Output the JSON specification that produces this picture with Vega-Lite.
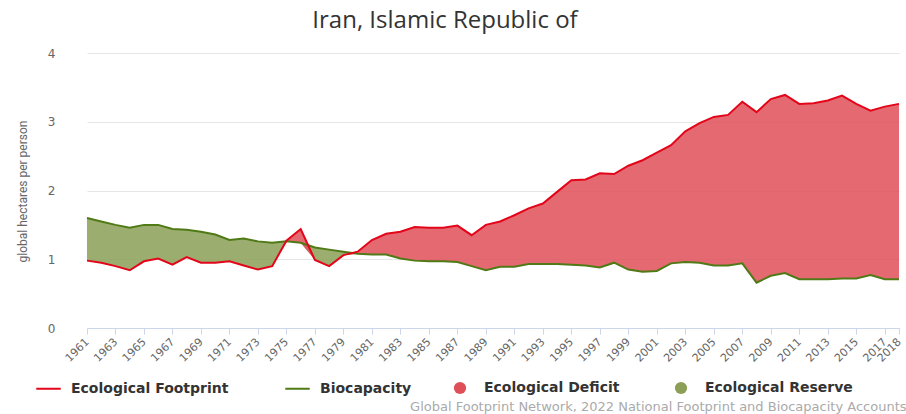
{
  "$schema": "https://vega.github.io/schema/vega-lite/v6.json",
  "width": 812,
  "height": 275,
  "autosize": {"type": "none"},
  "padding": {"left": 87, "top": 53, "right": 7, "bottom": 86},
  "background": "white",
  "title": {
    "text": "Iran, Islamic Republic of",
    "font": "Open Sans",
    "fontSize": 24,
    "fontWeight": "normal",
    "color": "#333333",
    "anchor": "middle",
    "frame": "group",
    "dx": -48,
    "offset": 14
  },
  "config": {
    "view": {"stroke": null},
    "axis": {"labelFont": "DejaVu Sans", "titleFont": "DejaVu Sans"}
  },
  "data": {
    "values": [
      {"year": 1961, "footprint": 0.98, "biocapacity": 1.60},
      {"year": 1962, "footprint": 0.95, "biocapacity": 1.55},
      {"year": 1963, "footprint": 0.90, "biocapacity": 1.50},
      {"year": 1964, "footprint": 0.84, "biocapacity": 1.46},
      {"year": 1965, "footprint": 0.97, "biocapacity": 1.50},
      {"year": 1966, "footprint": 1.01, "biocapacity": 1.50},
      {"year": 1967, "footprint": 0.92, "biocapacity": 1.44},
      {"year": 1968, "footprint": 1.03, "biocapacity": 1.43},
      {"year": 1969, "footprint": 0.95, "biocapacity": 1.40},
      {"year": 1970, "footprint": 0.95, "biocapacity": 1.36},
      {"year": 1971, "footprint": 0.97, "biocapacity": 1.28},
      {"year": 1972, "footprint": 0.91, "biocapacity": 1.30},
      {"year": 1973, "footprint": 0.85, "biocapacity": 1.26},
      {"year": 1974, "footprint": 0.90, "biocapacity": 1.24},
      {"year": 1975, "footprint": 1.27, "biocapacity": 1.26},
      {"year": 1976, "footprint": 1.44, "biocapacity": 1.24},
      {"year": 1977, "footprint": 0.99, "biocapacity": 1.17},
      {"year": 1978, "footprint": 0.90, "biocapacity": 1.14},
      {"year": 1979, "footprint": 1.06, "biocapacity": 1.11},
      {"year": 1980, "footprint": 1.11, "biocapacity": 1.08},
      {"year": 1981, "footprint": 1.28, "biocapacity": 1.07},
      {"year": 1982, "footprint": 1.37, "biocapacity": 1.07},
      {"year": 1983, "footprint": 1.40, "biocapacity": 1.01},
      {"year": 1984, "footprint": 1.47, "biocapacity": 0.98},
      {"year": 1985, "footprint": 1.46, "biocapacity": 0.97},
      {"year": 1986, "footprint": 1.46, "biocapacity": 0.97},
      {"year": 1987, "footprint": 1.49, "biocapacity": 0.96},
      {"year": 1988, "footprint": 1.35, "biocapacity": 0.90},
      {"year": 1989, "footprint": 1.50, "biocapacity": 0.84},
      {"year": 1990, "footprint": 1.55, "biocapacity": 0.89},
      {"year": 1991, "footprint": 1.64, "biocapacity": 0.89},
      {"year": 1992, "footprint": 1.74, "biocapacity": 0.93},
      {"year": 1993, "footprint": 1.81, "biocapacity": 0.93},
      {"year": 1994, "footprint": 1.98, "biocapacity": 0.93},
      {"year": 1995, "footprint": 2.15, "biocapacity": 0.92},
      {"year": 1996, "footprint": 2.16, "biocapacity": 0.91},
      {"year": 1997, "footprint": 2.25, "biocapacity": 0.88},
      {"year": 1998, "footprint": 2.24, "biocapacity": 0.95},
      {"year": 1999, "footprint": 2.36, "biocapacity": 0.85},
      {"year": 2000, "footprint": 2.44, "biocapacity": 0.82},
      {"year": 2001, "footprint": 2.55, "biocapacity": 0.83},
      {"year": 2002, "footprint": 2.66, "biocapacity": 0.94},
      {"year": 2003, "footprint": 2.86, "biocapacity": 0.96},
      {"year": 2004, "footprint": 2.98, "biocapacity": 0.95},
      {"year": 2005, "footprint": 3.07, "biocapacity": 0.91},
      {"year": 2006, "footprint": 3.10, "biocapacity": 0.91},
      {"year": 2007, "footprint": 3.29, "biocapacity": 0.94},
      {"year": 2008, "footprint": 3.14, "biocapacity": 0.66},
      {"year": 2009, "footprint": 3.33, "biocapacity": 0.76},
      {"year": 2010, "footprint": 3.39, "biocapacity": 0.80},
      {"year": 2011, "footprint": 3.26, "biocapacity": 0.71},
      {"year": 2012, "footprint": 3.27, "biocapacity": 0.71},
      {"year": 2013, "footprint": 3.31, "biocapacity": 0.71},
      {"year": 2014, "footprint": 3.38, "biocapacity": 0.72},
      {"year": 2015, "footprint": 3.26, "biocapacity": 0.72},
      {"year": 2016, "footprint": 3.16, "biocapacity": 0.77},
      {"year": 2017, "footprint": 3.22, "biocapacity": 0.71},
      {"year": 2018, "footprint": 3.26, "biocapacity": 0.71}
    ]
  },
  "transform": [
    {"fold": ["footprint", "biocapacity"], "as": ["series", "value"]},
    {"joinaggregate": [{"op": "min", "field": "value", "as": "lower"}], "groupby": ["year"]},
    {"filter": "datum.series === 'footprint'"}
  ],
  "encoding": {
    "x": {
      "field": "year",
      "type": "quantitative",
      "scale": {"domain": [1961, 2018], "nice": false, "zero": false},
      "axis": {
        "values": [1961, 1963, 1965, 1967, 1969, 1971, 1973, 1975, 1977, 1979, 1981, 1983, 1985, 1987, 1989, 1991, 1993, 1995, 1997, 1999, 2001, 2003, 2005, 2007, 2009, 2011, 2013, 2015, 2017, 2018],
        "format": "d",
        "labelAngle": -45,
        "labelAlign": "right",
        "labelBaseline": "middle",
        "labelFontSize": 11,
        "labelColor": "#666666",
        "labelPadding": 6,
        "labelOverlap": false,
        "labelFlush": false,
        "grid": false,
        "domainColor": "#ccd6eb",
        "tickColor": "#ccd6eb",
        "tickSize": 6,
        "title": "Global Footprint Network, 2022 National Footprint and Biocapacity Accounts",
        "titleFont": "DejaVu Sans",
        "titleFontSize": 13,
        "titleFontWeight": "normal",
        "titleColor": "#aaaaaa",
        "titleAlign": "right",
        "titleAnchor": "end",
        "titleBaseline": "alphabetic",
        "titleX": 819,
        "titleY": 82
      }
    }
  },
  "layer": [
    {
      "mark": {"type": "area", "fillOpacity": 0.85},
      "encoding": {
        "y": {
          "field": "biocapacity",
          "type": "quantitative",
          "scale": {"domain": [0, 4], "nice": false},
          "axis": {
            "values": [0, 1, 2, 3, 4],
            "format": "d",
            "grid": true,
            "gridColor": "#e6e6e6",
            "domain": false,
            "ticks": false,
            "labelFontSize": 12,
            "labelColor": "#666666",
            "labelPadding": 32,
            "title": "global hectares per person",
            "titleFont": "Roboto",
            "titleFontSize": 12,
            "titleFontWeight": "normal",
            "titleColor": "#666666",
            "titleX": -65,
            "titleY": 138,
            "titleAlign": "center",
            "titleBaseline": "middle",
            "titleAngle": -90
          }
        },
        "y2": {"field": "lower"},
        "fill": {
          "datum": "Ecological Reserve",
          "scale": {"domain": ["Ecological Deficit", "Ecological Reserve"], "range": ["#df4f58", "#8b9f57"]},
          "legend": {
            "orient": "none",
            "direction": "horizontal",
            "legendX": 366,
            "legendY": 328,
            "title": null,
            "symbolType": "circle",
            "symbolSize": 150,
            "symbolOpacity": 1,
            "symbolStrokeWidth": 0,
            "labelFont": "DejaVu Sans",
            "labelFontSize": 14,
            "labelFontWeight": "bold",
            "labelColor": "#333333",
            "labelOffset": 17,
            "columnPadding": 54
          }
        }
      }
    },
    {
      "mark": {"type": "area", "fillOpacity": 0.85},
      "encoding": {
        "y": {"field": "footprint", "type": "quantitative"},
        "y2": {"field": "lower"},
        "fill": {"datum": "Ecological Deficit"}
      }
    },
    {
      "mark": {"type": "line", "strokeWidth": 2},
      "encoding": {
        "y": {"field": "biocapacity", "type": "quantitative"},
        "stroke": {
          "datum": "Biocapacity",
          "scale": {"domain": ["Ecological Footprint", "Biocapacity"], "range": ["#e3061b", "#4f7a16"]},
          "legend": {
            "orient": "none",
            "direction": "horizontal",
            "legendX": -52,
            "legendY": 322,
            "title": null,
            "symbolType": "stroke",
            "symbolSize": 600,
            "symbolStrokeWidth": 2,
            "labelFont": "DejaVu Sans",
            "labelFontSize": 14,
            "labelFontWeight": "bold",
            "labelColor": "#333333",
            "labelOffset": 9,
            "columnPadding": 52
          }
        }
      }
    },
    {
      "mark": {"type": "line", "strokeWidth": 2},
      "encoding": {
        "y": {"field": "footprint", "type": "quantitative"},
        "stroke": {"datum": "Ecological Footprint"}
      }
    }
  ]
}
